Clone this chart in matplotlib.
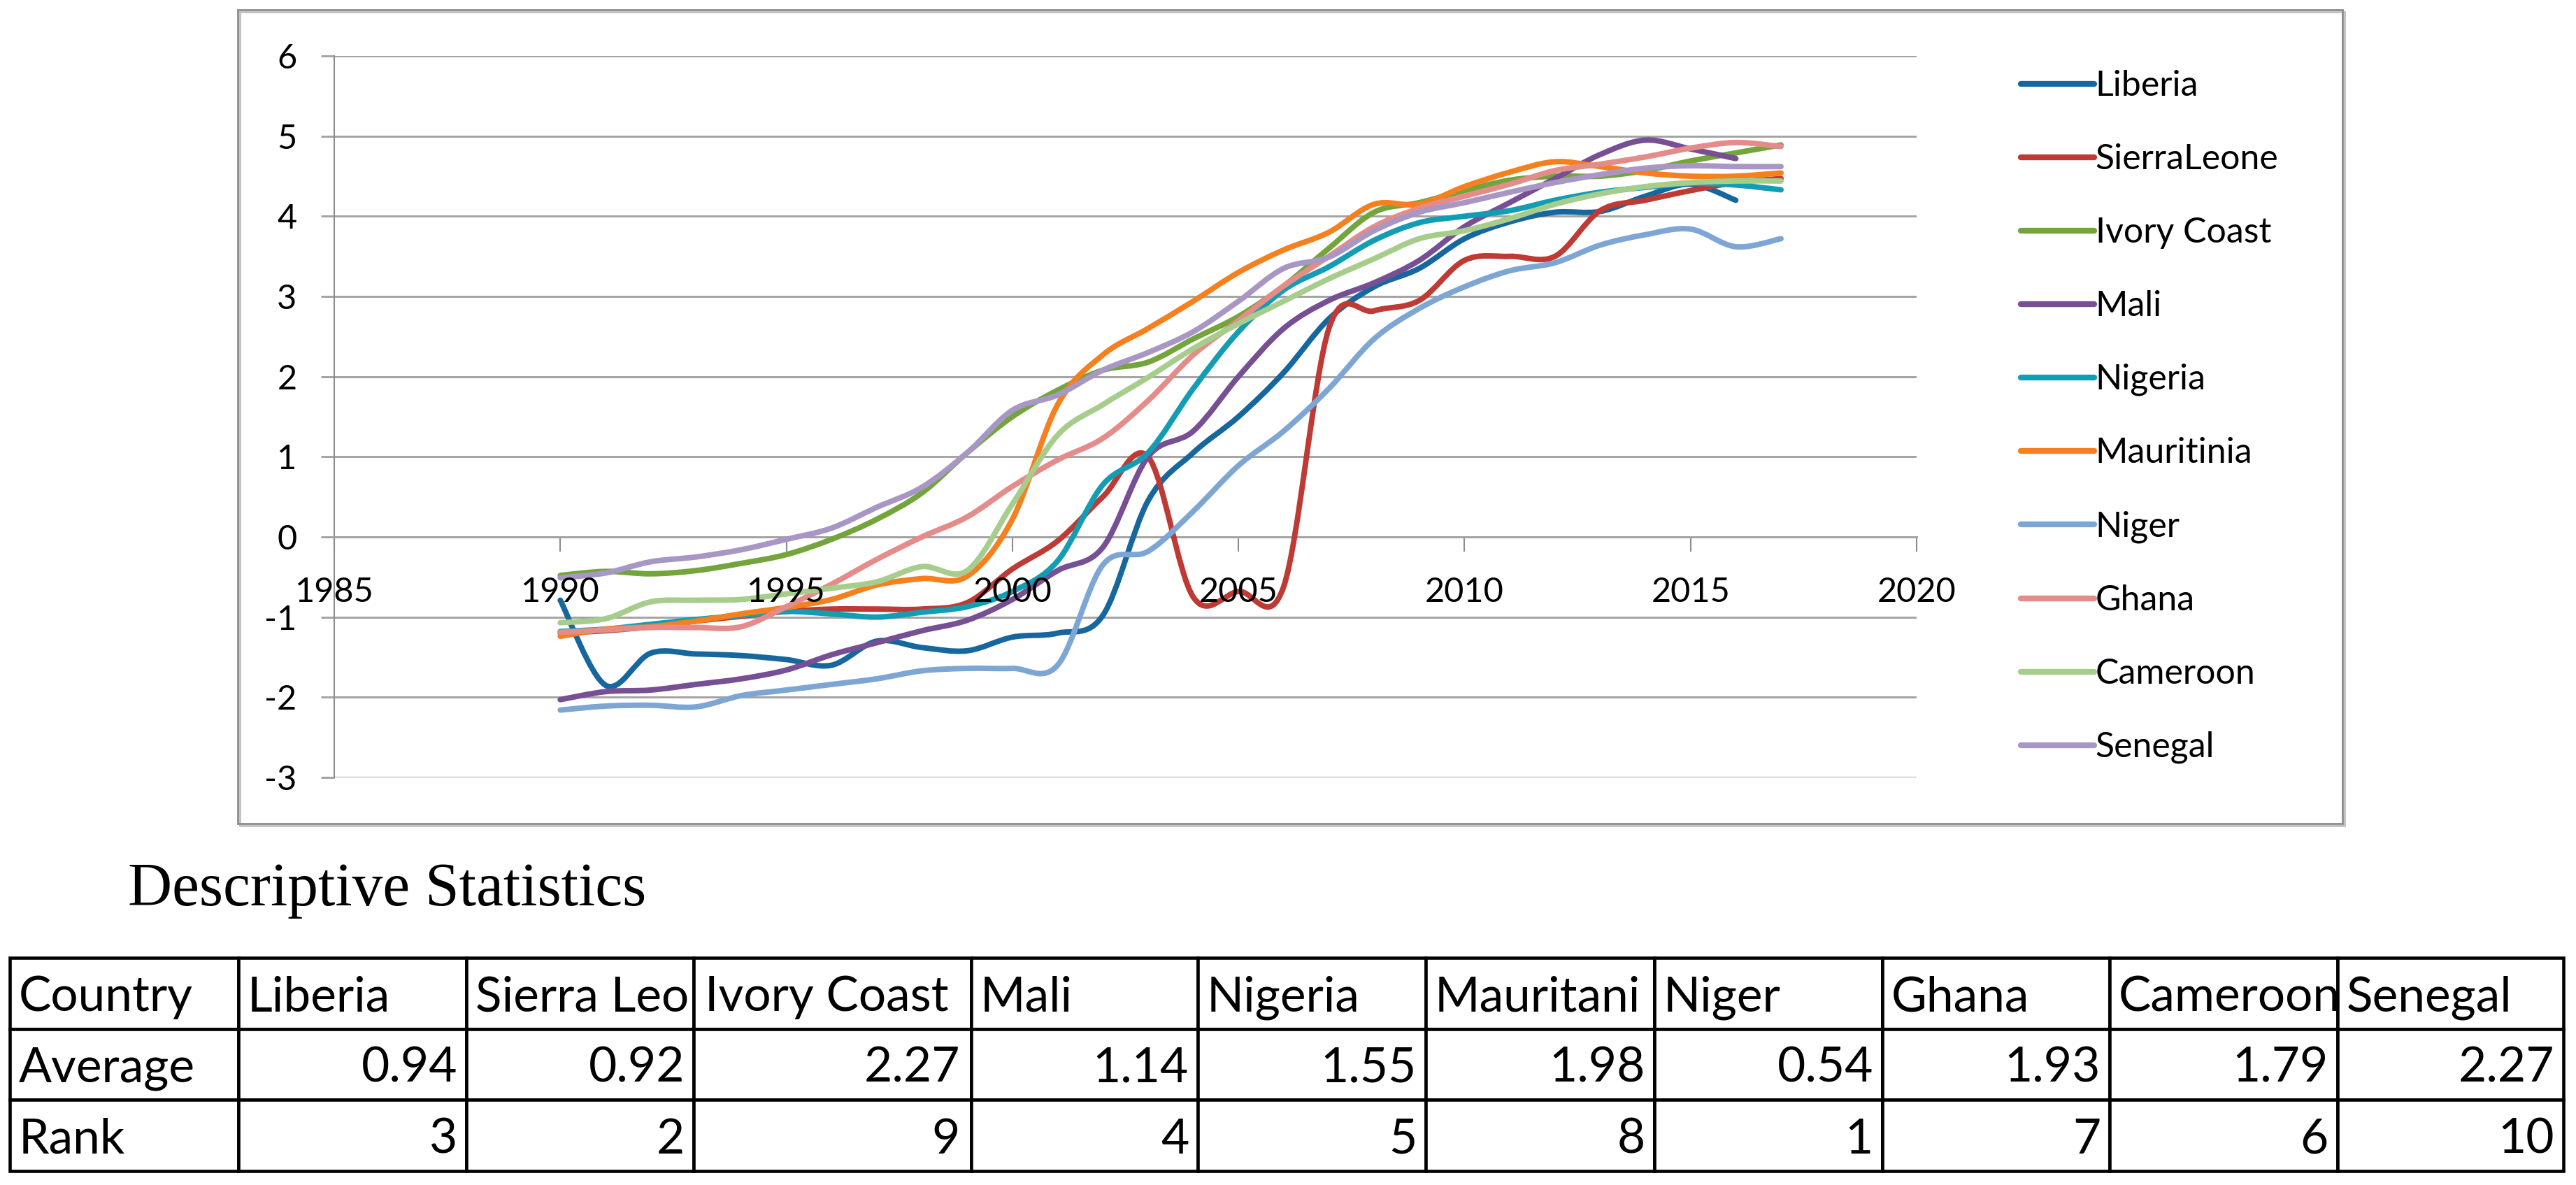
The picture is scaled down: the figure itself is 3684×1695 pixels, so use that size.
import numpy as np
import matplotlib.pyplot as plt
from matplotlib.path import Path
from matplotlib.patches import PathPatch, Rectangle
from matplotlib.lines import Line2D

plt.rcParams['font.family'] = ['Lato', 'DejaVu Sans']
plt.rcParams['axes.unicode_minus'] = False

W, H = 3684, 1695

# ---- data ----
years = list(range(1990, 2018))

liberia = [-0.79, -1.85, -1.45, -1.46, -1.48, -1.53, -1.6, -1.3, -1.38, -1.42,
           -1.25, -1.2, -0.98, 0.45, 1.05, 1.5, 2.05, 2.72, 3.12, 3.35,
           3.72, 3.93, 4.05, 4.06, 4.25, 4.4, 4.2]
sierra_leone = [-1.2, -1.17, -1.12, -1.05, -0.99, -0.93, -0.9, -0.9, -0.9, -0.82,
                -0.4, -0.05, 0.5, 1.0, -0.75, -0.68, -0.62, 2.6, 2.82, 2.95,
                3.45, 3.5, 3.5, 4.07, 4.2, 4.32, 4.42, 4.47]
ivory_coast = [-0.48, -0.43, -0.46, -0.42, -0.33, -0.22, -0.03, 0.22, 0.55, 1.05,
               1.5, 1.83, 2.08, 2.18, 2.47, 2.75, 3.13, 3.6, 4.05, 4.17,
               4.32, 4.45, 4.5, 4.5, 4.57, 4.69, 4.79, 4.89]
mali = [-2.03, -1.93, -1.91, -1.84, -1.77, -1.66, -1.47, -1.32, -1.17, -1.04,
        -0.78, -0.42, -0.13, 1.0, 1.32, 2.0, 2.6, 2.95, 3.17, 3.45,
        3.87, 4.17, 4.47, 4.77, 4.95, 4.84, 4.72]
nigeria = [-1.18, -1.15, -1.09, -1.03, -0.98, -0.93, -0.96, -1.0, -0.94, -0.87,
           -0.68, -0.3, 0.65, 1.05, 1.85, 2.56, 3.08, 3.37, 3.7, 3.92,
           4.0, 4.07, 4.2, 4.3, 4.36, 4.41, 4.39, 4.33]
mauritania = [-1.24, -1.15, -1.12, -1.05, -0.96, -0.88, -0.78, -0.6, -0.52, -0.49,
              0.22, 1.65, 2.27, 2.6, 2.94, 3.3, 3.58, 3.8, 4.15, 4.15,
              4.37, 4.55, 4.68, 4.62, 4.54, 4.5, 4.5, 4.54]
niger = [-2.16, -2.11, -2.1, -2.12, -1.98, -1.91, -1.84, -1.77, -1.67, -1.64,
         -1.64, -1.6, -0.35, -0.18, 0.32, 0.89, 1.32, 1.85, 2.47, 2.85,
         3.12, 3.32, 3.42, 3.64, 3.77, 3.84, 3.62, 3.72]
ghana = [-1.19, -1.16, -1.13, -1.13, -1.12, -0.87, -0.59, -0.28, 0.0, 0.25,
         0.63, 0.96, 1.23, 1.7, 2.27, 2.7, 3.13, 3.5, 3.87, 4.1,
         4.25, 4.4, 4.57, 4.65, 4.74, 4.85, 4.92, 4.87]
cameroon = [-1.07, -1.02, -0.81, -0.79, -0.78, -0.71, -0.64, -0.56, -0.37, -0.42,
            0.41, 1.27, 1.65, 1.99, 2.35, 2.66, 2.94, 3.22, 3.47, 3.72,
            3.82, 3.97, 4.15, 4.28, 4.37, 4.42, 4.44, 4.44]
senegal = [-0.51, -0.45, -0.31, -0.25, -0.16, -0.03, 0.11, 0.37, 0.62, 1.05,
           1.58, 1.77, 2.08, 2.3, 2.56, 2.94, 3.35, 3.49, 3.82, 4.05,
           4.17, 4.3, 4.42, 4.52, 4.6, 4.63, 4.62, 4.62]

series = [liberia, sierra_leone, ivory_coast, mali, nigeria,
          mauritania, niger, ghana, cameroon, senegal]
legend_labels = ['Liberia', 'SierraLeone', 'Ivory Coast', 'Mali', 'Nigeria',
                 'Mauritinia', 'Niger', 'Ghana', 'Cameroon', 'Senegal']
colors = ['#17679f', '#bd3a35', '#73a53c', '#764f94', '#139db5',
          '#f4801f', '#7ea6d4', '#e48c8a', '#a7cd8c', '#a897c4']

# table
table_header = ['Country', 'Liberia', 'Sierra Leo', 'Ivory Coast', 'Mali', 'Nigeria',
                'Mauritani', 'Niger', 'Ghana', 'Cameroon', 'Senegal']
averages = [0.94, 0.92, 2.27, 1.14, 1.55, 1.98, 0.54, 1.93, 1.79, 2.27]
ranks = [3, 2, 9, 4, 5, 8, 1, 7, 6, 10]
col_widths = [327, 326, 325, 397, 324, 326, 327, 326, 325, 326, 323]


def fx(px):
    return px / W


def fy(py):
    return 1 - py / H


def smooth_path(x, y):
    # excel style smoothed line (catmull-rom as cubic bezier)
    pts = np.column_stack([np.asarray(x, float), np.asarray(y, float)])
    n = len(pts)
    verts = [pts[0]]
    codes = [Path.MOVETO]
    for i in range(n - 1):
        p0 = pts[i - 1] if i > 0 else pts[i]
        p1 = pts[i]
        p2 = pts[i + 1]
        p3 = pts[i + 2] if i + 2 < n else pts[i + 1]
        verts += [p1 + (p2 - p0) / 6, p2 - (p3 - p1) / 6, p2]
        codes += [Path.CURVE4] * 3
    return Path(verts, codes)


fig = plt.figure(figsize=(W / 100, H / 100), dpi=100)

# chart frame with a light shadow
fig.patches.append(Rectangle((fx(343), fy(1181)), fx(3353) - fx(343), fy(17) - fy(1181),
                             transform=fig.transFigure, fill=False,
                             edgecolor='#c4c4c4', linewidth=2.2, zorder=0))
fig.patches.append(Rectangle((fx(340), fy(1178)), fx(3350) - fx(340), fy(14) - fy(1178),
                             transform=fig.transFigure, fill=False,
                             edgecolor='#8c8c8c', linewidth=2.0, zorder=0))

ax = fig.add_axes([fx(478), fy(1112), fx(2741) - fx(478), fy(80) - fy(1112)])
ax.set_xlim(1985, 2020)
ax.set_ylim(-3, 6)

grid_c = '#a3a3a3'
ax.yaxis.grid(True, color=grid_c, linewidth=2.1)
ax.set_yticks(range(-3, 7))
ax.set_xticks(range(1985, 2021, 5))
for s in ['top', 'right']:
    ax.spines[s].set_visible(False)
ax.spines['left'].set_color('#8c8c8c')
ax.spines['left'].set_linewidth(1.5)
ax.spines['bottom'].set_position(('data', 0))
ax.spines['bottom'].set_color(grid_c)
ax.spines['bottom'].set_linewidth(2.1)
ax.tick_params(axis='y', direction='out', length=13.5, width=2.1, color=grid_c,
               pad=25, labelsize=35)
ax.tick_params(axis='x', direction='out', length=15, width=1.5, color='#8c8c8c',
               labelbottom=False)

for yr in range(1985, 2021, 5):
    ax.annotate(str(yr), xy=(yr, 0), xytext=(0, -67), textcoords='offset points',
                ha='center', va='baseline', fontsize=35, zorder=6,
                annotation_clip=False)

handles = []
for vals, c, lab in zip(series, colors, legend_labels):
    path = smooth_path(years[:len(vals)], vals)
    ax.add_patch(PathPatch(path, fill=False, edgecolor=c, linewidth=5.7,
                           capstyle='round', joinstyle='round', zorder=3))
    handles.append(Line2D([], [], color=c, linewidth=6, solid_capstyle='round'))

fig.legend(handles, legend_labels, loc='upper left',
           bbox_to_anchor=(fx(2890), fy(100)), frameon=False, fontsize=36,
           handlelength=2.1, handletextpad=0.03, labelspacing=1.18,
           borderpad=0, borderaxespad=0)

fig.text(fx(183), fy(1295), 'Descriptive Statistics', family='Liberation Serif',
         fontsize=63, ha='left', va='baseline')

# table
tax = fig.add_axes([fx(14), fy(1675), fx(3666) - fx(14), fy(1370) - fy(1675)])
tax.axis('off')
cell_text = [table_header,
             ['Average'] + [f'{v:.2f}' for v in averages],
             ['Rank'] + [str(r) for r in ranks]]
total = sum(col_widths)
tbl = tax.table(cellText=cell_text, colWidths=[w / total for w in col_widths],
                bbox=[0, 0, 1, 1], cellLoc='left')
tbl.auto_set_font_size(False)
for (r, c), cell in tbl.get_celld().items():
    cell.set_linewidth(3.3)
    cell.set_edgecolor('black')
    cell.PAD = 0.04
    t = cell.get_text()
    t.set_fontsize(50)
    t.set_verticalalignment('center_baseline')
    if r > 0 and c > 0:
        t.set_horizontalalignment('right')

fig.canvas.draw()
for (r, c), cell in tbl.get_celld().items():
    t = cell.get_text()
    t.set_clip_on(True)
    t.set_clip_path(cell)

fig.savefig('out.png', dpi=100)
